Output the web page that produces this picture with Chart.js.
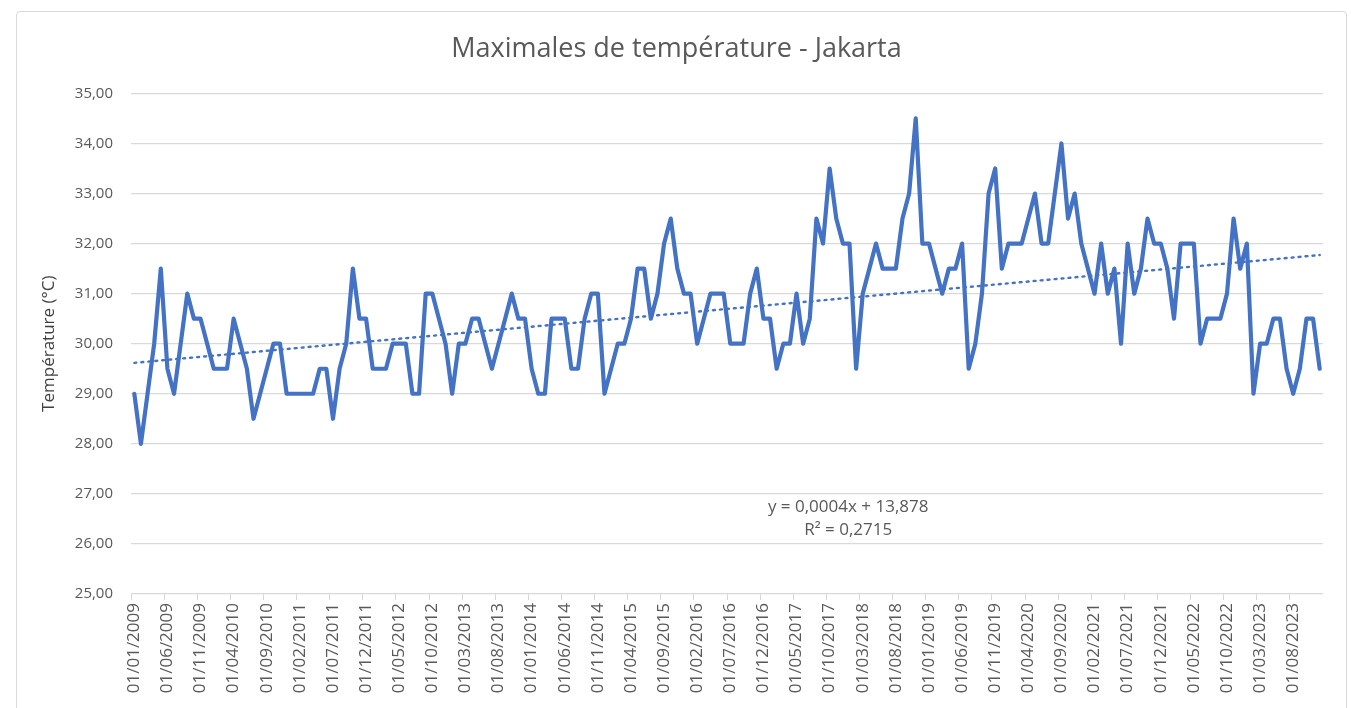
<!DOCTYPE html>
<html>
<head>
<meta charset="utf-8">
<title>Maximales de température - Jakarta</title>
<script src="https://cdn.jsdelivr.net/npm/chart.js@4.4.1/dist/chart.umd.min.js"></script>
<style>
  html, body { margin: 0; padding: 0; background: #fff; overflow: hidden; }
  #frame { position: absolute; left: 16px; top: 11px; width: 1329px; height: 760px; border: 1px solid #d9d9d9; border-radius: 4px; }
  #wrap { position: absolute; left: 0; top: 0; width: 1351px; height: 708px; }
</style>
</head>
<body>
<div id="frame"></div>
<div id="wrap"><canvas id="chart"></canvas></div>
<script>
// monthly maximum temperatures (°C), one array per year
const t2009 = [29.0, 28.0, 29.0, 30.0, 31.5, 29.5, 29.0, 30.0, 31.0, 30.5, 30.5, 30.0];
const t2010 = [29.5, 29.5, 29.5, 30.5, 30.0, 29.5, 28.5, 29.0, 29.5, 30.0, 30.0, 29.0];
const t2011 = [29.0, 29.0, 29.0, 29.0, 29.5, 29.5, 28.5, 29.5, 30.0, 31.5, 30.5, 30.5];
const t2012 = [29.5, 29.5, 29.5, 30.0, 30.0, 30.0, 29.0, 29.0, 31.0, 31.0, 30.5, 30.0];
const t2013 = [29.0, 30.0, 30.0, 30.5, 30.5, 30.0, 29.5, 30.0, 30.5, 31.0, 30.5, 30.5];
const t2014 = [29.5, 29.0, 29.0, 30.5, 30.5, 30.5, 29.5, 29.5, 30.5, 31.0, 31.0, 29.0];
const t2015 = [29.5, 30.0, 30.0, 30.5, 31.5, 31.5, 30.5, 31.0, 32.0, 32.5, 31.5, 31.0];
const t2016 = [31.0, 30.0, 30.5, 31.0, 31.0, 31.0, 30.0, 30.0, 30.0, 31.0, 31.5, 30.5];
const t2017 = [30.5, 29.5, 30.0, 30.0, 31.0, 30.0, 30.5, 32.5, 32.0, 33.5, 32.5, 32.0];
const t2018 = [32.0, 29.5, 31.0, 31.5, 32.0, 31.5, 31.5, 31.5, 32.5, 33.0, 34.5, 32.0];
const t2019 = [32.0, 31.5, 31.0, 31.5, 31.5, 32.0, 29.5, 30.0, 31.0, 33.0, 33.5, 31.5];
const t2020 = [32.0, 32.0, 32.0, 32.5, 33.0, 32.0, 32.0, 33.0, 34.0, 32.5, 33.0, 32.0];
const t2021 = [31.5, 31.0, 32.0, 31.0, 31.5, 30.0, 32.0, 31.0, 31.5, 32.5, 32.0, 32.0];
const t2022 = [31.5, 30.5, 32.0, 32.0, 32.0, 30.0, 30.5, 30.5, 30.5, 31.0, 32.5, 31.5];
const t2023 = [32.0, 29.0, 30.0, 30.0, 30.5, 30.5, 29.5, 29.0, 29.5, 30.5, 30.5, 29.5];

const years = [2009, 2010, 2011, 2012, 2013, 2014, 2015, 2016, 2017, 2018, 2019, 2020, 2021, 2022, 2023];
const yTicks = [25, 26, 27, 28, 29, 30, 31, 32, 33, 34, 35];
const trendText = ['y = 0,0004x + 13,878', 'R² = 0,2715'];

const temps = [].concat(t2009, t2010, t2011, t2012, t2013, t2014, t2015, t2016,
                        t2017, t2018, t2019, t2020, t2021, t2022, t2023);

// category labels: first day of each month
const months = [];
years.forEach(y => {
    for (let m = 1; m <= 12; m++) {
        months.push('01/' + String(m).padStart(2, '0') + '/' + y);
    }
});

// linear trendline (least squares on the series)
const n = temps.length;
let sx = 0, sy = 0, sxy = 0, sxx = 0;
temps.forEach((v, i) => { sx += i; sy += v; sxy += i * v; sxx += i * i; });
const slope = (n * sxy - sx * sy) / (n * sxx - sx * sx);
const icept = (sy - slope * sx) / n;
const trend = temps.map((v, i) => icept + slope * i);

const FONT = "'Open Sans', 'Segoe UI', sans-serif";
const GREY = '#595959';
const GRID = '#d9d9d9';
const BLUE = '#4472C4';

// equation label under the trendline
const equationLabel = {
    id: 'equationLabel',
    afterDatasetsDraw(chart) {
        const { ctx, scales } = chart;
        const x = scales.x.getPixelForValue(107.8);
        ctx.save();
        ctx.font = '17px ' + FONT;
        ctx.fillStyle = GREY;
        ctx.textAlign = 'center';
        ctx.textBaseline = 'middle';
        ctx.fillText(trendText[0], x, scales.y.getPixelForValue(26.74));
        ctx.fillText(trendText[1], x, scales.y.getPixelForValue(26.28));
        ctx.restore();
    }
};

const ctx = document.getElementById('chart').getContext('2d');
const chart = new Chart(ctx, {
    type: 'line',
    data: {
        labels: months,
        datasets: [{
            label: 'Température max',
            data: temps,
            borderColor: BLUE,
            borderWidth: 4.2,
            borderJoinStyle: 'round',
            borderCapStyle: 'round',
            pointRadius: 0,
            tension: 0,
            order: 2
        }, {
            label: 'Tendance',
            data: trend,
            borderColor: BLUE,
            borderWidth: 2.4,
            borderDash: [2, 5],
            borderCapStyle: 'round',
            pointRadius: 0,
            tension: 0,
            order: 1
        }]
    },
    options: {
        responsive: true,
        maintainAspectRatio: false,
        animation: false,
        layout: { padding: { left: 30, right: 28, top: 33, bottom: 0 } },
        plugins: {
            legend: { display: false },
            tooltip: { enabled: false },
            title: {
                display: true,
                text: 'Maximales de température - Jakarta',
                color: GREY,
                font: { family: FONT, size: 27, weight: 'normal' },
                padding: { top: 0, bottom: 28 }
            }
        },
        scales: {
            x: {
                type: 'category',
                offset: true,
                afterFit: s => { s.height = 114; },
                grid: {
                    offset: true,
                    drawOnChartArea: false,
                    drawTicks: true,
                    tickLength: 6,
                    color: c => (c.index % 5 === 0 ? GRID : 'rgba(0,0,0,0)')
                },
                border: { display: false },
                ticks: {
                    autoSkip: false,
                    maxRotation: 90,
                    minRotation: 90,
                    padding: 3,
                    color: GREY,
                    font: { family: FONT, size: 17 },
                    callback: function (v, i) { return i % 5 === 0 ? this.getLabelForValue(v) : ''; }
                }
            },
            y: {
                min: yTicks[0],
                max: yTicks[yTicks.length - 1],
                afterFit: s => { s.width = 131 - 30; },
                afterBuildTicks: s => { s.ticks = yTicks.map(v => ({ value: v })); },
                grid: { color: GRID, lineWidth: 1.3, drawTicks: false },
                border: { display: false },
                ticks: {
                    padding: 18,
                    color: GREY,
                    font: { family: FONT, size: 15 },
                    callback: v => v.toFixed(2).replace('.', ',')
                },
                title: {
                    display: true,
                    text: 'Température (°C)',
                    color: '#404040',
                    font: { family: FONT, size: 17 },
                    padding: { top: 9, bottom: 0 }
                }
            }
        }
    },
    plugins: [equationLabel]
});
</script>
</body>
</html>
